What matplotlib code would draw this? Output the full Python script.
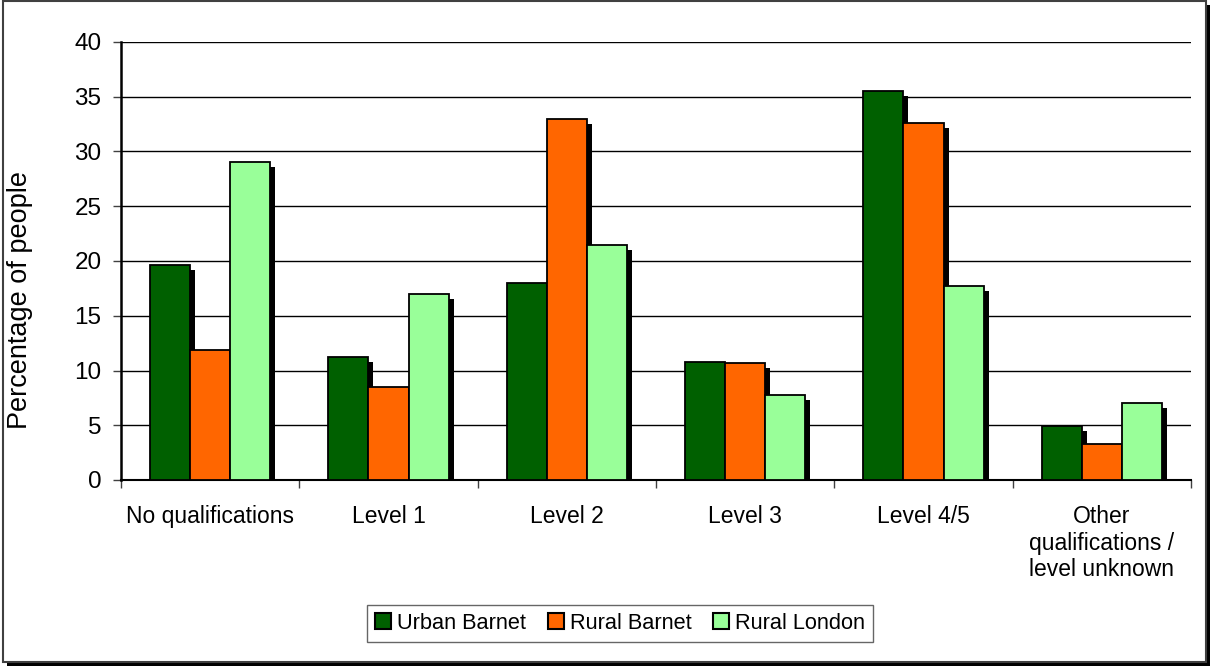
import matplotlib
matplotlib.use("Agg")
import matplotlib.pyplot as plt
import matplotlib.patheffects as pe
from matplotlib.patches import Rectangle, Patch
import numpy as np

plt.rcParams['font.family'] = ['Liberation Sans', 'DejaVu Sans']

categories = ["No qualifications", "Level 1", "Level 2", "Level 3", "Level 4/5",
              "Other\nqualifications /\nlevel unknown"]
series_names = ["Urban Barnet", "Rural Barnet", "Rural London"]
urban_barnet = [19.6, 11.2, 18.0, 10.8, 35.5, 4.9]
rural_barnet = [11.9, 8.5, 33.0, 10.7, 32.6, 3.3]
rural_london = [29.0, 17.0, 21.5, 7.8, 17.7, 7.0]
colors = ["#006000", "#FF6600", "#99FF99"]
yticks = [0, 5, 10, 15, 20, 25, 30, 35, 40]

W, H = 1213, 670
fig = plt.figure(figsize=(W / 100, H / 100), dpi=100)

# outer frame with shadow
frame = Rectangle((3 / W, 1 - 662 / H), 1203 / W, 661 / H, transform=fig.transFigure,
                  facecolor="white", edgecolor="#404040", linewidth=1.5,
                  path_effects=[pe.SimplePatchShadow(offset=(3, -3), shadow_rgbFace="black", alpha=1),
                                pe.Normal()], zorder=-10)
fig.patches.append(frame)

ax = fig.add_axes([121 / W, 1 - 480 / H, 1070 / W, 438 / H])
ax.set_facecolor("white")

x = np.arange(len(categories))
bw = 0.225
shadow = [pe.SimplePatchShadow(offset=(3.6, -3.6), shadow_rgbFace="black", alpha=1), pe.Normal()]
for i, (vals, c, name) in enumerate(zip([urban_barnet, rural_barnet, rural_london], colors, series_names)):
    bars = ax.bar(x + (i - 1) * bw, vals, width=bw, color=c, edgecolor="black",
                  linewidth=1.3, zorder=3)
    for b in bars:
        b.set_path_effects(shadow)

ax.set_xlim(-0.5, len(categories) - 0.5)
ax.set_ylim(0, 40)
ax.set_yticks(yticks)
ax.set_yticklabels([str(t) for t in yticks], fontsize=17.5)
ax.yaxis.grid(True, color="black", linewidth=1.0, zorder=0)
ax.set_axisbelow(True)

ax.set_xticks(x)
ax.set_xticklabels(categories, fontsize=16.5, linespacing=1.2)
ax.tick_params(axis="x", length=0, pad=18)
ax.set_xticks(np.arange(-0.5, len(categories) + 0.5, 1), minor=True)
ax.tick_params(axis="x", which="minor", length=6, width=1, color="#404040", direction="out")
ax.tick_params(axis="y", length=6, width=1, color="#404040", direction="out", pad=8)

for s in ["top", "right"]:
    ax.spines[s].set_visible(False)
ax.spines["left"].set_linewidth(1.8)
ax.spines["bottom"].set_linewidth(1.5)

ax.set_ylabel("Percentage of people", fontsize=19.5)
ax.yaxis.set_label_coords(-0.0822, 0.411)

handles = [Patch(facecolor=c, edgecolor="black", linewidth=1.5) for c in colors]
leg = fig.legend(handles, series_names, loc="center", bbox_to_anchor=(620 / W, 1 - 623.5 / H), ncol=3,
                 fontsize=15.7, frameon=True, fancybox=False, edgecolor="#404040",
                 handlelength=0.75, handleheight=0.75, handletextpad=0.25,
                 columnspacing=1.0, borderpad=0.38)
leg.get_frame().set_linewidth(1.0)

fig.savefig("out.png", dpi=100)
